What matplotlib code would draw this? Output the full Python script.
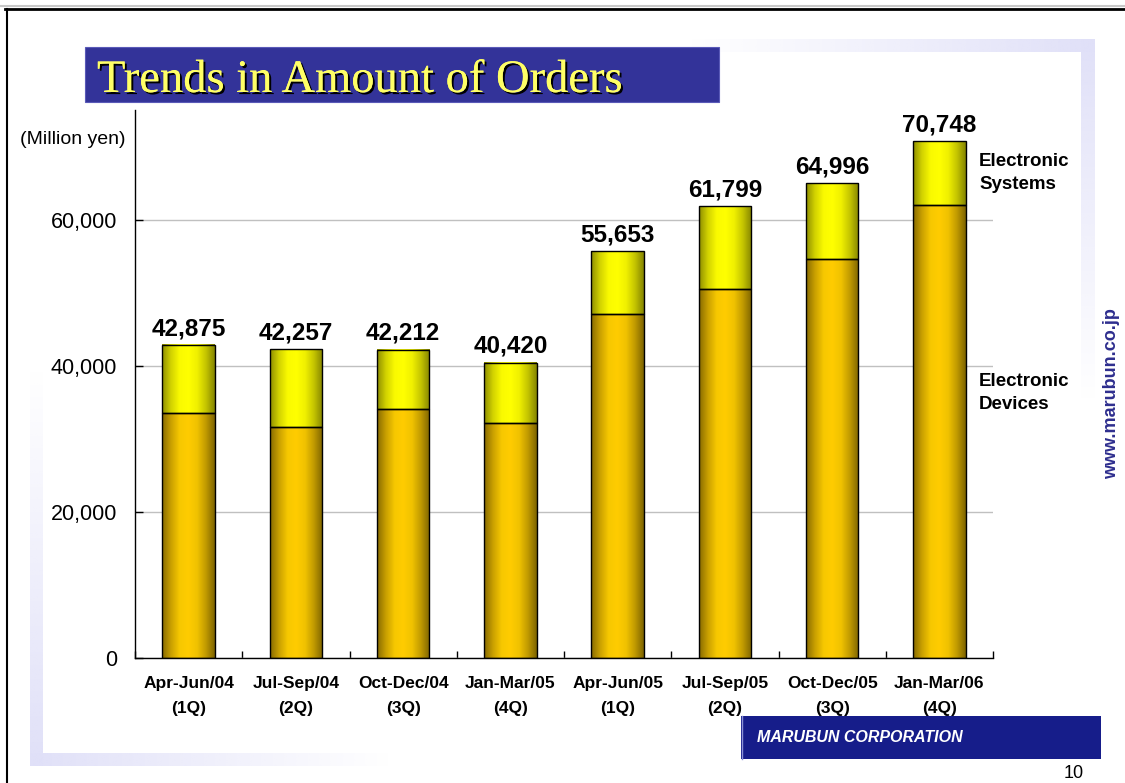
import numpy as np
import matplotlib
matplotlib.use("Agg")
import matplotlib.pyplot as plt
import matplotlib.patheffects as pe
from matplotlib.colors import LinearSegmentedColormap, to_rgb
from matplotlib.patches import Rectangle

plt.rcParams['font.family'] = ['Liberation Sans', 'DejaVu Sans']

# Quarterly orders (million yen)
periods = ['Apr-Jun/04', 'Jul-Sep/04', 'Oct-Dec/04', 'Jan-Mar/05',
           'Apr-Jun/05', 'Jul-Sep/05', 'Oct-Dec/05', 'Jan-Mar/06']
quarters = ['(1Q)', '(2Q)', '(3Q)', '(4Q)', '(1Q)', '(2Q)', '(3Q)', '(4Q)']
totals = np.array([42875, 42257, 42212, 40420, 55653, 61799, 64996, 70748])
devices = np.array([33520, 31640, 34070, 32100, 47120, 50550, 54660, 62050])
systems = totals - devices

W, H = 1125, 783
LAVENDER = to_rgb('#E0E0F8')

fig = plt.figure(figsize=(W / 100, H / 100), dpi=100)
fig.patch.set_facecolor('white')

# page furniture, laid out in pixel units
bg = fig.add_axes([0, 0, 1, 1], zorder=0)
bg.set_xlim(0, W)
bg.set_ylim(H, 0)
bg.axis('off')


def fade_strip(x0, x1, y0, y1, vertical, start, end):
    n = 256
    alpha = np.linspace(start, end, n)
    img = np.zeros((n, 1, 4) if vertical else (1, n, 4))
    img[..., :3] = LAVENDER
    img[..., 3] = alpha.reshape(img.shape[:2])
    bg.imshow(img, extent=(x0, x1, y1, y0), aspect='auto', origin='upper',
              interpolation='bilinear', zorder=1)


fade_strip(690, 1095, 39, 52, False, 0.0, 1.0)    # top
fade_strip(1081, 1095, 39, 400, True, 1.0, 0.0)   # right
fade_strip(30, 43, 370, 766, True, 0.0, 1.0)      # left
fade_strip(30, 390, 753, 766, False, 1.0, 0.0)    # bottom

# slide border
bg.plot([0, W], [6, 6], color='#c8c8c8', lw=1.5, zorder=2)
bg.plot([5, W], [9, 9], color='black', lw=2, zorder=2)
bg.plot([6.5, 6.5], [9, H], color='black', lw=1.5, zorder=2)

# title banner
bg.add_patch(Rectangle((85, 47), 634, 55, facecolor='#333399',
                       edgecolor='#5a5ab8', lw=0.8, zorder=3))
bg.text(97, 92, 'Trends in Amount of Orders', family='Liberation Serif',
        fontsize=33.5, color='#FFFF66', va='baseline', ha='left', zorder=4,
        path_effects=[pe.withSimplePatchShadow(offset=(1.5, -1.5),
                                               shadow_rgbFace='black', alpha=1),
                      pe.Normal()])

# company logo box
bg.add_patch(Rectangle((741, 716), 360, 43, facecolor='#161d8a',
                       edgecolor='none', zorder=3))
bg.plot([742, 742], [716, 759], color='#8a90d8', lw=1, zorder=4)
bg.text(757, 738, 'MARUBUN CORPORATION', color='white', fontsize=11.5,
        fontweight='bold', fontstyle='italic', ha='left', va='center', zorder=4)

bg.text(1112, 394, 'www.marubun.co.jp', rotation=90, color='#2e2e8e',
        fontsize=13, fontweight='bold', ha='center', va='center')
bg.text(1074, 782, '10', fontsize=13, ha='center', va='bottom')
bg.text(126, 140, '(Million yen)', fontsize=14, ha='right', va='center')

# chart
ax = fig.add_axes([135 / W, (H - 658) / H, 858 / W, 548 / H], zorder=1)
ax.set_facecolor('none')

dev_cmap = LinearSegmentedColormap.from_list(
    'dev', ['#876a00', '#c9a000', '#f7c800', '#ffcc00', '#f0c200', '#c09a00', '#7e6400'])
sys_cmap = LinearSegmentedColormap.from_list(
    'sys', ['#8e8e00', '#d2d200', '#fafa00', '#ffff00', '#f0f000', '#c4c400', '#858500'])
ramp = np.linspace(0, 1, 128).reshape(1, -1)
width = 0.49
x = np.arange(len(periods))


def shaded_bars(heights, bottoms, cmap):
    bars = ax.bar(x, heights, width, bottom=bottoms, facecolor='none',
                  edgecolor='black', lw=1, zorder=3)
    for b in bars:
        x0, y0 = b.get_x(), b.get_y()
        ax.imshow(ramp, cmap=cmap, aspect='auto', origin='lower', zorder=2,
                  interpolation='bilinear',
                  extent=(x0, x0 + b.get_width(), y0, y0 + b.get_height()))
    return bars


shaded_bars(devices, 0, dev_cmap)
shaded_bars(systems, devices, sys_cmap)

for i, v in enumerate(totals):
    ax.annotate(f'{v:,}', (i, v), xytext=(0, 7), textcoords='offset points',
                ha='center', va='baseline', fontsize=17.5, fontweight='bold')

ax.text(len(x) - 1 + 0.37, devices[-1] + systems[-1] / 2, 'Electronic\nSystems',
        ha='left', va='center', fontsize=13.5, fontweight='bold', linespacing=1.5)
ax.text(len(x) - 1 + 0.37, 36300, 'Electronic\nDevices',
        ha='left', va='center', fontsize=13.5, fontweight='bold', linespacing=1.5)

ax.set_xlim(-0.5, len(x) - 0.5)
ax.set_ylim(0, 75000)

ax.set_yticks([0, 20000, 40000, 60000])
ax.set_yticklabels([f'{t:,}' for t in [0, 20000, 40000, 60000]], fontsize=15.5)
ax.tick_params(axis='y', direction='in', length=6, width=1, pad=13)
ax.yaxis.grid(True, color='#c0c0c0', lw=1)
ax.set_axisbelow(True)

ax.set_xticks(x)
ax.set_xticklabels([f'{p}\n{q}' for p, q in zip(periods, quarters)],
                   fontsize=12.5, fontweight='bold', linespacing=1.85)
ax.tick_params(axis='x', which='major', length=0, pad=13)
ax.set_xticks(np.arange(-0.5, len(x)), minor=True)
ax.tick_params(axis='x', which='minor', direction='in', length=5, width=1)

for side in ['top', 'right']:
    ax.spines[side].set_visible(False)
for side in ['left', 'bottom']:
    ax.spines[side].set_color('black')
    ax.spines[side].set_linewidth(1)

fig.savefig('out.png', dpi=100)
